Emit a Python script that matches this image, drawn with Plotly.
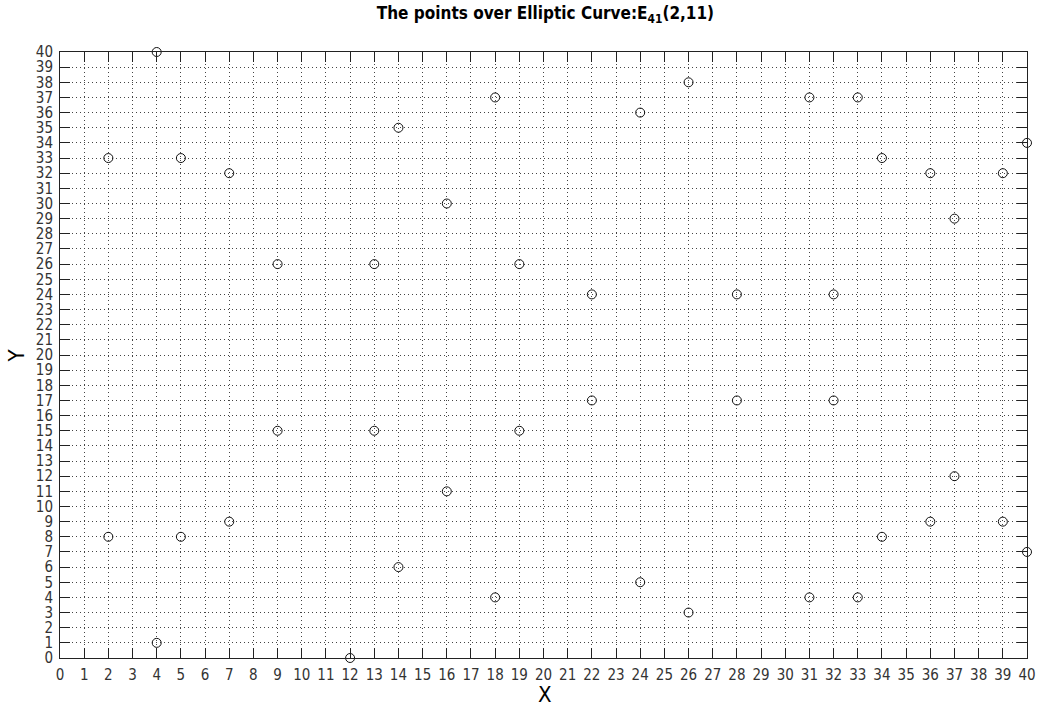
import plotly.graph_objects as go

x_vals = [2, 2, 4, 4, 5, 5, 7, 7, 9, 9, 12, 13, 13, 14, 14, 16, 16, 18, 18, 19, 19,
          22, 22, 24, 24, 26, 26, 28, 28, 31, 31, 32, 32, 33, 33, 34, 34, 36, 36,
          37, 37, 39, 39, 40, 40]
y_vals = [8, 33, 1, 40, 8, 33, 9, 32, 15, 26, 0, 15, 26, 6, 35, 11, 30, 4, 37, 15, 26,
          17, 24, 5, 36, 3, 38, 17, 24, 4, 37, 17, 24, 4, 37, 8, 33, 9, 32,
          12, 29, 9, 32, 7, 34]
tick_vals = list(range(0, 41))

FONT = "DejaVu Sans Condensed"

fig = go.Figure()
fig.add_trace(go.Scatter(
    x=x_vals, y=y_vals, mode="markers",
    marker=dict(symbol="circle-open", size=9, color="#111", line=dict(width=1, color="#111")),
    cliponaxis=False, showlegend=False,
))

axis_common = dict(
    range=[0, 40], tickmode="array", tickvals=tick_vals, ticktext=[str(v) for v in tick_vals],
    ticks="inside", ticklen=10, tickwidth=1, tickcolor="#222",
    showline=True, linecolor="#222", linewidth=1, mirror="ticks",
    showgrid=True, gridcolor="#444", griddash="1px,3px", gridwidth=1,
    zeroline=False, automargin=False,
    tickfont=dict(family=FONT, size=15, color="#333"),
)

fig.update_xaxes(**axis_common, ticklabelstandoff=3)
fig.update_yaxes(**axis_common, ticklabelstandoff=3)

fig.update_layout(
    width=1037, height=713,
    margin=dict(l=60, r=10, t=52, b=55, autoexpand=False),
    plot_bgcolor="white", paper_bgcolor="white",
    title=dict(text="<b>The points over Elliptic Curve:E<sub>41</sub>(2,11)</b>",
               x=0.526, xanchor="center", y=0.99, yanchor="top",
               font=dict(family=FONT, size=17, color="black")),
    annotations=[
        dict(text="X", xref="paper", yref="paper", x=0.5016, y=-0.06,
             xanchor="center", yanchor="middle", showarrow=False,
             font=dict(family=FONT, size=22, color="black")),
        dict(text="Y", xref="paper", yref="paper", x=-0.045, y=0.5,
             xanchor="center", yanchor="middle", showarrow=False, textangle=-90,
             font=dict(family=FONT, size=22, color="black")),
    ],
)

fig.write_html(
    "out.html",
    config={"displayModeBar": False},
    post_script="document.body.style.margin='0';document.documentElement.style.overflow='hidden';",
)
